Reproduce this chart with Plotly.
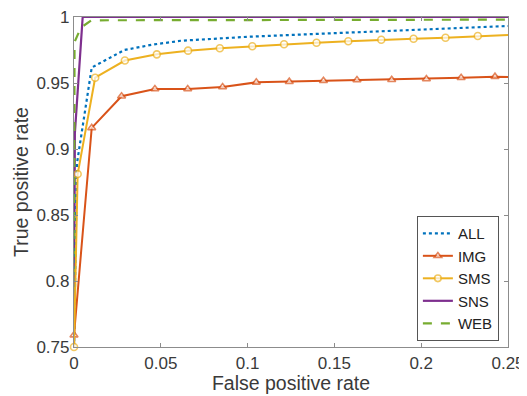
import plotly.graph_objects as go

all_fpr = [0, 0.0017, 0.0102, 0.029, 0.045, 0.0615, 0.1, 0.157, 0.2, 0.25]
all_tpr = [0.75, 0.889, 0.9617, 0.975, 0.979, 0.982, 0.985, 0.988, 0.9905, 0.9932]

img_fpr = [0, 0.0102, 0.0274, 0.0466, 0.0655, 0.0856, 0.105, 0.124, 0.1437, 0.163, 0.183, 0.203, 0.223, 0.2425, 0.25]
img_tpr = [0.759, 0.916, 0.940, 0.9455, 0.9455, 0.947, 0.9505, 0.951, 0.9517, 0.9523, 0.9525, 0.953, 0.954, 0.9548, 0.9545]

sms_fpr = [0, 0.0021, 0.0122, 0.0293, 0.0477, 0.0657, 0.084, 0.1027, 0.121, 0.1397, 0.158, 0.177, 0.1956, 0.214, 0.2326, 0.25]
sms_tpr = [0.75, 0.881, 0.954, 0.967, 0.9717, 0.9745, 0.9763, 0.9778, 0.9793, 0.9805, 0.9816, 0.9828, 0.9835, 0.9843, 0.9856, 0.9864]

sns_fpr = [0, 0.0005, 0.005, 0.25]
sns_tpr = [0.75, 0.912, 1.0, 1.0]

web_fpr = [0, 0.0003, 0.004, 0.01, 0.25]
web_tpr = [0.75, 0.981, 0.992, 0.9975, 0.998]

x_ticks = [0, 0.05, 0.1, 0.15, 0.2, 0.25]
x_tick_labels = ["0", "0.05", "0.1", "0.15", "0.2", "0.25"]
y_ticks = [0.75, 0.8, 0.85, 0.9, 0.95, 1.0]
y_tick_labels = ["0.75", "0.8", "0.85", "0.9", "0.95", "1"]

c_all = "#0072BD"
c_img = "#D95319"
c_sms = "#EDB120"
c_sns = "#7E2F8E"
c_web = "#77AC30"

fig = go.Figure()
fig.add_trace(go.Scatter(x=sns_fpr, y=sns_tpr, mode="lines", name="SNS",
                         line=dict(color=c_sns, width=2.2), legendrank=4))
fig.add_trace(go.Scatter(x=web_fpr, y=web_tpr, mode="lines", name="WEB",
                         line=dict(color=c_web, width=2.2, dash="dash"), legendrank=5))
fig.add_trace(go.Scatter(x=all_fpr, y=all_tpr, mode="lines", name="ALL",
                         line=dict(color=c_all, width=2.2, dash="dot"), legendrank=1))
fig.add_trace(go.Scatter(x=img_fpr, y=img_tpr, mode="lines+markers", name="IMG",
                         line=dict(color=c_img, width=2),
                         marker=dict(symbol="triangle-up", size=[7] * (len(img_fpr) - 1) + [0],
                                     color="white", line=dict(color=c_img, width=1.6)),
                         legendrank=2))
fig.add_trace(go.Scatter(x=sms_fpr, y=sms_tpr, mode="lines+markers", name="SMS",
                         line=dict(color=c_sms, width=2),
                         marker=dict(symbol="circle", size=[7] * (len(sms_fpr) - 1) + [0],
                                     color="white", line=dict(color=c_sms, width=1.6)),
                         legendrank=3))
for t in fig.data:
    t.cliponaxis = False

axis_common = dict(showline=True, linecolor="#8c8c8c", linewidth=1.2, mirror="ticks",
                   ticks="inside", ticklen=4, tickcolor="#8c8c8c", showgrid=False,
                   zeroline=False, automargin=False, ticklabeloverflow="allow",
                   tickfont=dict(size=17, color="#3a3a3a"))

# page body has an 8px margin; figure sized so plot area lands where the reference has it
fig.update_layout(
    width=519, height=388,
    margin=dict(l=66, r=19, t=9, b=49),
    paper_bgcolor="white", plot_bgcolor="white",
    font=dict(family="Liberation Sans, Arial, sans-serif", color="#3a3a3a"),
    showlegend=True,
    legend=dict(x=0.979, y=0.018, xanchor="right", yanchor="bottom",
                bordercolor="#555555", borderwidth=1, bgcolor="white",
                font=dict(size=15, color="#222222"), itemwidth=30,
                tracegroupgap=0),
)
fig.update_xaxes(range=[0, 0.25], tickvals=x_ticks, ticktext=x_tick_labels,
                 title=dict(text="False positive rate", font=dict(size=19.5), standoff=4),
                 **axis_common)
fig.update_yaxes(range=[0.75, 1.0], tickvals=y_ticks, ticktext=y_tick_labels,
                 title=dict(text="True positive rate", font=dict(size=19.5), standoff=2),
                 **axis_common)

fig.write_html("out.html")
